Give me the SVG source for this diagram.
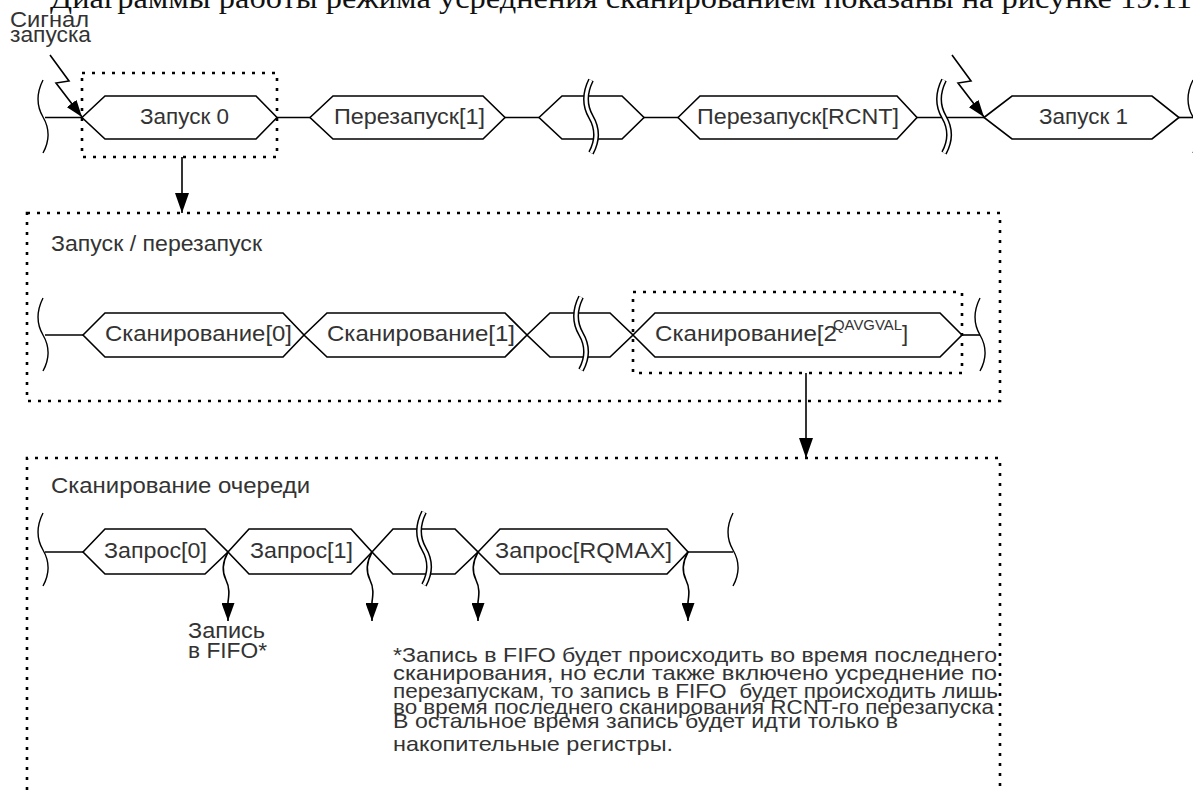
<svg xmlns="http://www.w3.org/2000/svg" xmlns:xlink="http://www.w3.org/1999/xlink" width="1193" height="791" viewBox="0 0 1193 791">
<style>
  .hex { fill: #fff; stroke: #000; stroke-width: 1.6; stroke-linejoin: miter; }
  .ln { fill: none; stroke: #000; stroke-width: 1.6; }
  .dot { fill: none; stroke: #000; stroke-width: 2.6; stroke-dasharray: 3 7; }
  .brk { fill: none; stroke: #000; stroke-width: 1.4; }
  .brk2o { fill: none; stroke: #000; stroke-width: 6; }
  .brk2i { fill: none; stroke: #fff; stroke-width: 3; }
  .lbl { font-family: "Liberation Sans", Arial, sans-serif; font-size: 22px; fill: #333; }
  .sup { font-family: "Liberation Sans", Arial, sans-serif; font-size: 15px; fill: #333; }
  .note { font-family: "Liberation Sans", Arial, sans-serif; font-size: 21px; fill: #333; }
  .title { font-family: "Liberation Serif", "Times New Roman", serif; font-size: 29px; fill: #111; }
</style>
<defs>
  <marker id="ah" markerWidth="20" markerHeight="14" refX="20" refY="7" orient="auto" markerUnits="userSpaceOnUse">
    <path d="M0,0 L20,7 L0,14 z" fill="#000"/>
  </marker>
  <marker id="ahs" markerWidth="18" markerHeight="13" refX="18" refY="6.5" orient="auto" markerUnits="userSpaceOnUse">
    <path d="M0,0 L18,6.5 L0,13 z" fill="#000"/>
  </marker>
  <marker id="ahz" markerWidth="17" markerHeight="12" refX="17" refY="6" orient="auto" markerUnits="userSpaceOnUse">
    <path d="M0,0 L17,6 L0,12 z" fill="#000"/>
  </marker>
  <path id="brace" d="M0,-37 C-6,-25 -7,-12 0,0 C7,12 6,25 0,36"/>
</defs>

<!-- cut-off title line -->
<text class="title" x="50" y="8" textLength="1150" lengthAdjust="spacingAndGlyphs">Диаграммы работы режима усреднения сканированием показаны на рисунке 19.11.</text>

<g id="signal-label">
  <text class="lbl" x="10" y="27" font-size="19" textLength="79" lengthAdjust="spacingAndGlyphs">Сигнал</text>
  <text class="lbl" x="10" y="42" font-size="19" textLength="81" lengthAdjust="spacingAndGlyphs">запуска</text>
</g>

<!-- Top row -->
<g id="top-row-breaks">
  <use xlink:href="#brace" class="brk" transform="translate(43,117)"/>
  <use xlink:href="#brace" class="brk" transform="translate(1193,117)"/>
</g>
<g id="start0">
  <polygon class="hex" points="82,117.5 105,96 256,96 277,117.5 256,139 105,139"/>
  <text class="lbl" x="140" y="124" textLength="89" lengthAdjust="spacingAndGlyphs">Запуск 0</text>
</g>
<g id="restart1">
  <polygon class="hex" points="310,117.5 333,96 483,96 505,117.5 483,139 333,139"/>
  <text class="lbl" x="334" y="124" textLength="151" lengthAdjust="spacingAndGlyphs">Перезапуск[1]</text>
</g>
<g id="restart-gap">
  <polygon class="hex" points="539,117.5 562,96 622,96 644,117.5 622,139 562,139"/>
  <use xlink:href="#brace" class="brk2o" transform="translate(591,117)"/>
  <use xlink:href="#brace" class="brk2i" transform="translate(591,117)"/>
</g>
<g id="restartRCNT">
  <polygon class="hex" points="678,117.5 700,96 897,96 917,117.5 897,139 700,139"/>
  <text class="lbl" x="697" y="124" textLength="202" lengthAdjust="spacingAndGlyphs">Перезапуск[RCNT]</text>
</g>
<g id="start1">
  <polygon class="hex" points="984,117.5 1012,96 1152,96 1179,117.5 1152,139 1012,139"/>
  <text class="lbl" x="1039" y="124" textLength="89" lengthAdjust="spacingAndGlyphs">Запуск 1</text>
</g>

<!-- Middle box -->
<g id="box-restart">
  <rect class="dot" x="27" y="213" width="973" height="188"/>
  <text class="lbl" x="51" y="251" textLength="211" lengthAdjust="spacingAndGlyphs">Запуск / перезапуск</text>
  <use xlink:href="#brace" class="brk" transform="translate(43,335)"/>
  <use xlink:href="#brace" class="brk" transform="translate(980,335)"/>
</g>
<g id="scan0">
  <polygon class="hex" points="83,335 105,313 283,313 304,335 283,357 105,357"/>
  <text class="lbl" x="105" y="341" textLength="187" lengthAdjust="spacingAndGlyphs">Сканирование[0]</text>
</g>
<g id="scan1">
  <polygon class="hex" points="304,335 327,313 505,313 527,335 505,357 327,357"/>
  <text class="lbl" x="327" y="341" textLength="188" lengthAdjust="spacingAndGlyphs">Сканирование[1]</text>
</g>
<g id="scan-gap">
  <polygon class="hex" points="527,335 550,313 610,313 633,335 610,357 550,357"/>
  <use xlink:href="#brace" class="brk2o" transform="translate(581,334)"/>
  <use xlink:href="#brace" class="brk2i" transform="translate(581,334)"/>
</g>
<g id="scanN">
  <polygon class="hex" points="633,335 655,313 940,313 962,335 940,357 655,357"/>
  <text class="lbl" x="655" y="341" textLength="182" lengthAdjust="spacingAndGlyphs">Сканирование[2</text>
  <text class="sup" x="833" y="330" textLength="69" lengthAdjust="spacingAndGlyphs">QAVGVAL</text>
  <text class="lbl" x="902" y="341">]</text>
  <rect class="dot" x="633" y="292" width="329" height="81"/>
</g>

<!-- Bottom box -->
<g id="box-queue">
  <path class="dot" d="M27,800 L27,458 L1000,458 L1000,800"/>
  <text class="lbl" x="51" y="493" textLength="259" lengthAdjust="spacingAndGlyphs">Сканирование очереди</text>
  <use xlink:href="#brace" class="brk" transform="translate(43,550)"/>
  <use xlink:href="#brace" class="brk" transform="translate(733,550)"/>
</g>
<g id="req0">
  <polygon class="hex" points="83,552 105,529 205,529 228,552 205,574 105,574"/>
  <text class="lbl" x="104" y="558" textLength="103" lengthAdjust="spacingAndGlyphs">Запрос[0]</text>
</g>
<g id="req1">
  <polygon class="hex" points="228,552 249,529 351,529 372,552 351,574 249,574"/>
  <text class="lbl" x="250" y="558" textLength="103" lengthAdjust="spacingAndGlyphs">Запрос[1]</text>
</g>
<g id="req-gap">
  <polygon class="hex" points="372,552 393,529 455,529 478,552 455,574 393,574"/>
  <use xlink:href="#brace" class="brk2o" transform="translate(424,549)"/>
  <use xlink:href="#brace" class="brk2i" transform="translate(424,549)"/>
</g>
<g id="reqMax">
  <polygon class="hex" points="478,552 500,529 667,529 688,552 667,574 500,574"/>
  <text class="lbl" x="495" y="558" textLength="177" lengthAdjust="spacingAndGlyphs">Запрос[RQMAX]</text>
</g>
<g id="fifo-label">
  <text class="lbl" x="188" y="638" textLength="77" lengthAdjust="spacingAndGlyphs">Запись</text>
  <text class="lbl" x="188" y="658" textLength="79" lengthAdjust="spacingAndGlyphs">в FIFO*</text>
</g>
<g id="footnote">
  <text class="note" x="393" y="662" textLength="604" lengthAdjust="spacingAndGlyphs">*Запись в FIFO будет происходить во время последнего</text>
  <text class="note" x="393" y="680" textLength="604" lengthAdjust="spacingAndGlyphs">сканирования, но если также включено усреднение по</text>
  <text class="note" x="393" y="698" textLength="605" lengthAdjust="spacingAndGlyphs" xml:space="preserve">перезапускам, то запись в FIFO  будет происходить лишь</text>
  <text class="note" x="393" y="714" textLength="601" lengthAdjust="spacingAndGlyphs">во время последнего сканирования RCNT-го перезапуска</text>
  <text class="note" x="393" y="728" textLength="505" lengthAdjust="spacingAndGlyphs">В остальное время запись будет идти только в</text>
  <text class="note" x="393" y="751" textLength="280" lengthAdjust="spacingAndGlyphs">накопительные регистры.</text>
</g>

<g id="connectors">
  <!-- top row -->
  <path class="ln" d="M45,117.5 H82"/>
  <path class="ln" d="M277,117.5 H310"/>
  <path class="ln" d="M505,117.5 H539"/>
  <path class="ln" d="M644,117.5 H678"/>
  <path class="ln" d="M917,117.5 H984"/>
  <use xlink:href="#brace" class="brk2o" transform="translate(944,117)"/>
  <use xlink:href="#brace" class="brk2i" transform="translate(944,117)"/>
  <path class="ln" d="M1179,117.5 H1193"/>
  <path class="ln" d="M50,55 L69,81 L56,83 L82,117" marker-end="url(#ahz)"/>
  <path class="ln" d="M952,55 L971,81 L958,83 L984,117" marker-end="url(#ahz)"/>
  <!-- drill-down arrows -->
  <rect class="dot" x="82" y="73" width="195" height="84"/>
  <path class="ln" d="M182,157 V213" marker-end="url(#ah)"/>
  <path class="ln" d="M806,373 V458" marker-end="url(#ah)"/>
  <!-- middle row -->
  <path class="ln" d="M45,335 H83"/>
  <path class="ln" d="M962,335 H980"/>
  <!-- bottom row -->
  <path class="ln" d="M45,552 H83"/>
  <path class="ln" d="M688,552 H733"/>
  <path class="ln" d="M228,552 C222,563 222,572 226,580 C230,588 229,595 228,602 L228,621" marker-end="url(#ahs)"/>
  <path class="ln" d="M372,552 C366,563 366,572 370,580 C374,588 373,595 372,602 L372,621" marker-end="url(#ahs)"/>
  <path class="ln" d="M478,552 C472,563 472,572 476,580 C480,588 479,595 478,602 L478,621" marker-end="url(#ahs)"/>
  <path class="ln" d="M688,552 C682,563 682,572 686,580 C690,588 689,595 688,602 L688,621" marker-end="url(#ahs)"/>
</g>
</svg>
